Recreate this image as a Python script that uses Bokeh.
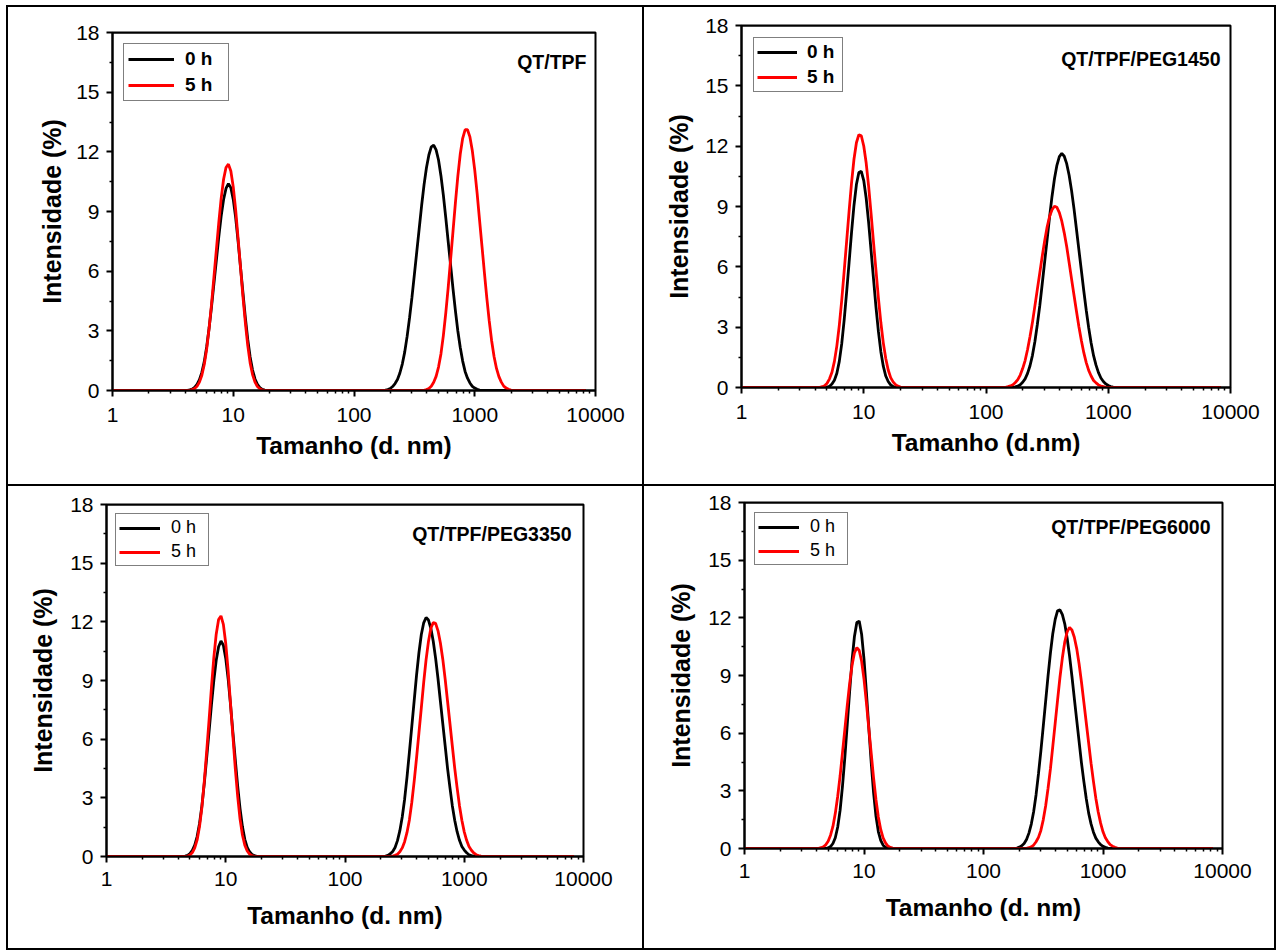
import sys
from bokeh.plotting import figure
from bokeh.models import (Range1d, LogAxis, FixedTicker, NumeralTickFormatter,
                          Label, Div, Spacer)
from bokeh.layouts import row, column
from bokeh.embed import file_html
from bokeh.resources import INLINE

# ---------------- data ----------------
# size bins (nm): first peak region, second peak region, plus the two ends of the scan
tamanho_inicio = [1.0]
tamanho_pico1 = [3.631, 3.802, 3.981, 4.169, 4.365, 4.571, 4.786, 5.012, 5.248, 5.495,
                 5.754, 6.026, 6.310, 6.607, 6.918, 7.244, 7.586, 7.943, 8.318, 8.710,
                 9.120, 9.550, 10.00, 10.47, 10.96, 11.48, 12.02, 12.59, 13.18, 13.80,
                 14.45, 15.14, 15.85, 16.60, 17.38, 18.20, 19.05, 19.95, 20.89]
tamanho_pico2 = [131.8, 138.0, 144.5, 151.4, 158.5, 166.0, 173.8, 182.0, 190.5, 199.5,
                 208.9, 218.8, 229.1, 239.9, 251.2, 263.0, 275.4, 288.4, 302.0, 316.2,
                 331.1, 346.7, 363.1, 380.2, 398.1, 416.9, 436.5, 457.1, 478.6, 501.2,
                 524.8, 549.5, 575.4, 602.6, 631.0, 660.7, 691.8, 724.4, 758.6, 794.3,
                 831.8, 871.0, 912.0, 955.0, 1000, 1047, 1096, 1148, 1202, 1259,
                 1318, 1380, 1445, 1514, 1585, 1660, 1738, 1820, 1905, 1995,
                 2089, 2188, 2291]
tamanho_fim = [8318.0]

# QT/TPF
tpf_0h_p1 = [0, 0, 0, 0.01, 0.03, 0.07, 0.16, 0.31, 0.54, 0.91,
             1.45, 2.20, 3.14, 4.21, 5.37, 6.54, 7.71, 8.77, 9.60, 10.16,
             10.40, 10.20, 9.61, 8.69, 7.52, 6.22, 4.94, 3.67, 2.58, 1.69,
             1.03, 0.58, 0.31, 0.15, 0.06, 0.02, 0, 0, 0]
tpf_0h_p2 = [0, 0, 0, 0, 0, 0, 0, 0.02, 0.05, 0.10,
             0.20, 0.35, 0.55, 0.88, 1.33, 1.93, 2.72, 3.65, 4.68, 5.83,
             6.98, 8.14, 9.30, 10.34, 11.20, 11.84, 12.25, 12.33, 12.10, 11.59,
             10.80, 9.82, 8.69, 7.48, 6.30, 5.11, 4.00, 2.99, 2.16, 1.48,
             0.96, 0.62, 0.38, 0.21, 0.12, 0.06, 0.02, 0, 0, 0,
             0, 0, 0, 0, 0, 0, 0, 0, 0, 0,
             0, 0, 0]
tpf_5h_p1 = [0, 0, 0, 0, 0.01, 0.04, 0.10, 0.21, 0.42, 0.77,
             1.31, 2.09, 3.13, 4.33, 5.70, 7.06, 8.43, 9.66, 10.62, 11.21,
             11.38, 11.04, 10.24, 9.08, 7.66, 6.21, 4.75, 3.42, 2.27, 1.39,
             0.80, 0.42, 0.20, 0.09, 0.03, 0.01, 0, 0, 0]
tpf_5h_p2 = [0, 0, 0, 0, 0, 0, 0, 0, 0, 0,
             0, 0, 0, 0, 0, 0, 0, 0, 0, 0,
             0, 0, 0, 0.01, 0.05, 0.10, 0.21, 0.41, 0.71, 1.18,
             1.84, 2.76, 3.89, 5.17, 6.59, 8.01, 9.45, 10.78, 11.89, 12.68,
             13.11, 13.11, 12.75, 12.05, 11.08, 9.90, 8.57, 7.25, 5.93, 4.64,
             3.50, 2.50, 1.71, 1.11, 0.70, 0.42, 0.22, 0.12, 0.06, 0.02,
             0, 0, 0]

# QT/TPF/PEG1450
peg1450_0h_p1 = [0, 0, 0, 0, 0, 0, 0, 0.02, 0.06, 0.17,
                 0.36, 0.71, 1.30, 2.18, 3.36, 4.74, 6.21, 7.70, 9.05, 10.09,
                 10.69, 10.75, 10.29, 9.41, 8.21, 6.80, 5.40, 4.00, 2.79, 1.78,
                 1.06, 0.57, 0.30, 0.13, 0.05, 0.01, 0, 0, 0]
peg1450_0h_p2 = [0, 0, 0, 0, 0, 0.01, 0.03, 0.07, 0.14, 0.26,
                 0.43, 0.70, 1.08, 1.60, 2.29, 3.13, 4.07, 5.16, 6.26, 7.36,
                 8.47, 9.50, 10.38, 11.05, 11.48, 11.64, 11.50, 11.13, 10.55, 9.79,
                 8.88, 7.87, 6.84, 5.82, 4.80, 3.84, 2.97, 2.21, 1.58, 1.11,
                 0.74, 0.47, 0.30, 0.18, 0.10, 0.05, 0.02, 0.01, 0, 0,
                 0, 0, 0, 0, 0, 0, 0, 0, 0, 0,
                 0, 0, 0]
peg1450_5h_p1 = [0, 0, 0, 0, 0.01, 0.04, 0.09, 0.21, 0.43, 0.76,
                 1.30, 2.07, 3.09, 4.35, 5.79, 7.27, 8.76, 10.16, 11.35, 12.17,
                 12.57, 12.52, 12.01, 11.16, 10.01, 8.64, 7.22, 5.82, 4.44, 3.23,
                 2.22, 1.44, 0.87, 0.49, 0.28, 0.14, 0.07, 0.02, 0]
peg1450_5h_p2 = [0, 0, 0.01, 0.04, 0.08, 0.14, 0.25, 0.39, 0.62, 0.94,
                 1.34, 1.89, 2.54, 3.24, 4.06, 4.88, 5.70, 6.53, 7.30, 7.98,
                 8.50, 8.84, 9.01, 8.96, 8.70, 8.27, 7.69, 7.01, 6.21, 5.39,
                 4.59, 3.79, 3.02, 2.34, 1.73, 1.24, 0.85, 0.57, 0.35, 0.23,
                 0.13, 0.07, 0.04, 0.01, 0, 0, 0, 0, 0, 0,
                 0, 0, 0, 0, 0, 0, 0, 0, 0, 0,
                 0, 0, 0]

# QT/TPF/PEG3350
peg3350_0h_p1 = [0, 0, 0, 0, 0, 0.02, 0.06, 0.15, 0.32, 0.58,
                 1.02, 1.69, 2.59, 3.74, 5.04, 6.38, 7.75, 9.00, 10.03, 10.73,
                 11.02, 10.80, 10.13, 9.09, 7.78, 6.35, 4.95, 3.60, 2.45, 1.53,
                 0.88, 0.47, 0.24, 0.11, 0.04, 0.01, 0, 0, 0]
peg3350_0h_p2 = [0, 0, 0, 0, 0, 0, 0, 0, 0, 0,
                 0, 0.02, 0.06, 0.14, 0.26, 0.46, 0.81, 1.32, 2.02, 2.93,
                 4.06, 5.33, 6.64, 7.96, 9.27, 10.42, 11.35, 11.95, 12.22, 12.09,
                 11.67, 11.01, 10.13, 9.09, 7.93, 6.79, 5.66, 4.51, 3.52, 2.60,
                 1.85, 1.27, 0.83, 0.51, 0.33, 0.19, 0.09, 0.05, 0.02, 0,
                 0, 0, 0, 0, 0, 0, 0, 0, 0, 0,
                 0, 0, 0]
peg3350_5h_p1 = [0, 0, 0, 0, 0, 0, 0.02, 0.08, 0.20, 0.44,
                 0.85, 1.53, 2.52, 3.83, 5.36, 6.98, 8.64, 10.17, 11.37, 12.12,
                 12.30, 11.87, 10.89, 9.50, 7.83, 6.17, 4.51, 3.07, 1.91, 1.10,
                 0.58, 0.28, 0.12, 0.04, 0.01, 0, 0, 0, 0]
peg3350_5h_p2 = [0, 0, 0, 0, 0, 0, 0, 0, 0, 0,
                 0, 0, 0, 0, 0.02, 0.06, 0.12, 0.24, 0.44, 0.76,
                 1.23, 1.87, 2.76, 3.84, 5.04, 6.32, 7.60, 8.90, 10.07, 11.00,
                 11.67, 11.96, 11.92, 11.54, 10.92, 10.09, 9.07, 7.94, 6.80, 5.65,
                 4.52, 3.52, 2.60, 1.85, 1.26, 0.83, 0.51, 0.32, 0.18, 0.09,
                 0.05, 0.02, 0, 0, 0, 0, 0, 0, 0, 0,
                 0, 0, 0]

# QT/TPF/PEG6000
peg6000_0h_p1 = [0, 0, 0, 0, 0, 0, 0, 0.03, 0.10, 0.26,
                 0.56, 1.12, 1.99, 3.24, 4.76, 6.46, 8.18, 9.78, 11.03, 11.76,
                 11.83, 11.15, 9.85, 8.14, 6.31, 4.50, 2.92, 1.69, 0.88, 0.42,
                 0.17, 0.06, 0.01, 0, 0, 0, 0, 0, 0]
peg6000_0h_p2 = [0, 0, 0, 0, 0, 0, 0, 0, 0.02, 0.07,
                 0.14, 0.26, 0.47, 0.80, 1.27, 1.93, 2.80, 3.88, 5.07, 6.35,
                 7.65, 8.97, 10.17, 11.19, 11.92, 12.37, 12.42, 12.17, 11.69, 10.94,
                 10.02, 8.96, 7.81, 6.68, 5.56, 4.44, 3.48, 2.59, 1.84, 1.28,
                 0.85, 0.54, 0.35, 0.20, 0.11, 0.06, 0.02, 0.01, 0, 0,
                 0, 0, 0, 0, 0, 0, 0, 0, 0, 0,
                 0, 0, 0]
peg6000_5h_p1 = [0, 0, 0, 0.01, 0.04, 0.09, 0.19, 0.38, 0.69, 1.15,
                 1.83, 2.72, 3.77, 4.99, 6.21, 7.45, 8.59, 9.53, 10.18, 10.45,
                 10.30, 9.74, 8.81, 7.60, 6.28, 4.97, 3.69, 2.55, 1.64, 0.99,
                 0.55, 0.29, 0.13, 0.06, 0.02, 0, 0, 0, 0]
peg6000_5h_p2 = [0, 0, 0, 0, 0, 0, 0, 0, 0, 0,
                 0, 0, 0.01, 0.04, 0.09, 0.18, 0.35, 0.58, 0.94, 1.49,
                 2.21, 3.12, 4.14, 5.33, 6.52, 7.73, 8.91, 9.92, 10.74, 11.27,
                 11.50, 11.37, 10.99, 10.40, 9.60, 8.65, 7.60, 6.54, 5.49, 4.44,
                 3.49, 2.62, 1.90, 1.32, 0.87, 0.56, 0.36, 0.20, 0.12, 0.06,
                 0.02, 0.01, 0, 0, 0, 0, 0, 0, 0, 0,
                 0, 0, 0]

series_labels = ["0 h", "5 h"]
panel_titles = ["QT/TPF", "QT/TPF/PEG1450", "QT/TPF/PEG3350", "QT/TPF/PEG6000"]
x_labels = ["Tamanho (d. nm)", "Tamanho (d.nm)", "Tamanho (d. nm)", "Tamanho (d. nm)"]
y_label = "Intensidade (%)"
x_ticks = [1, 10, 100, 1000, 10000]
y_ticks = [0, 3, 6, 9, 12, 15, 18]

# full size axis shared by every measurement
tamanho_nm = tamanho_inicio + tamanho_pico1 + tamanho_pico2 + tamanho_fim


def serie(p1, p2):
    vals = [0] + p1 + p2 + [0]
    if len(vals) != len(tamanho_nm):
        print("length mismatch", len(vals), len(tamanho_nm), file=sys.stderr)
    return vals


# ---------------- styling ----------------
FONT = "Liberation Sans"
x_minor = [m * 10 ** e for e in range(4) for m in range(2, 10)]
y_minor = [t + 1.5 for t in y_ticks[:-1]]


def style_axis(ax):
    ax.axis_line_width = 2
    ax.axis_line_color = "black"
    ax.major_tick_in = 0
    ax.major_tick_out = 6
    ax.minor_tick_in = 0
    ax.minor_tick_out = 3
    ax.major_tick_line_width = 2
    ax.minor_tick_line_width = 1.5
    ax.major_label_text_font = FONT
    ax.major_label_text_font_size = "21px"
    ax.major_label_text_color = "black"
    ax.axis_label_text_font = FONT
    ax.axis_label_text_font_style = "bold"
    ax.axis_label_text_color = "black"


def painel(w, h, borders, y0, y5, titulo, titulo_y, titulo_dx, xlabel,
           leg_style, leg, std):
    bl, br, bt, bb = borders
    p = figure(width=w, height=h, x_axis_type="log",
               x_range=Range1d(1, 10000), y_range=Range1d(0, 18),
               output_backend="svg", toolbar_location=None,
               min_border_left=bl, min_border_right=br,
               min_border_top=bt, min_border_bottom=bb, margin=0)
    try:
        p.frame_align = False
    except Exception:
        pass
    p.xgrid.visible = False
    p.ygrid.visible = False
    p.background_fill_color = "white"
    p.border_fill_color = "white"
    p.outline_line_color = "black"
    p.outline_line_width = 2

    p.line(tamanho_nm, y0, line_color="black", line_width=2.8,
           legend_label=series_labels[0])
    p.line(tamanho_nm, y5, line_color="#ff0000", line_width=2.8,
           legend_label=series_labels[1])

    xa = p.xaxis[0]
    xa.ticker = FixedTicker(ticks=x_ticks, minor_ticks=x_minor)
    xa.formatter = NumeralTickFormatter(format="0")
    xa.axis_label = xlabel
    style_axis(xa)
    xa.axis_label_text_font_size = "24.5px"
    xa.major_label_standoff = std["xt"]
    xa.axis_label_standoff = std["xl"]

    ya = p.yaxis[0]
    ya.ticker = FixedTicker(ticks=y_ticks, minor_ticks=y_minor)
    ya.axis_label = y_label
    style_axis(ya)
    ya.axis_label_text_font_size = "25px"
    ya.major_label_standoff = 7
    ya.axis_label_standoff = std["yl"]

    # tick marks on the top edge of the frame (no labels, takes no space)
    top = LogAxis(ticker=FixedTicker(ticks=x_ticks, minor_ticks=x_minor),
                  formatter=NumeralTickFormatter(format="0"))
    style_axis(top)
    top.fixed_location = 18
    top.major_label_text_font_size = "1px"
    top.major_label_text_alpha = 0
    top.major_label_standoff = 0
    p.add_layout(top, "above")

    lg = p.legend[0]
    lg.location = "top_left"
    lg.margin = leg["margin"]
    lg.padding = leg["padding"]
    lg.spacing = leg["spacing"]
    lg.glyph_width = leg["gw"]
    lg.glyph_height = leg["gh"]
    lg.label_height = leg["gh"]
    lg.label_width = leg["lw"]
    lg.label_standoff = leg["std"]
    lg.label_text_font = FONT
    lg.label_text_font_size = leg["fs"]
    lg.label_text_font_style = leg_style
    lg.label_text_color = "black"
    lg.border_line_color = "black"
    lg.border_line_width = 1
    lg.background_fill_color = "white"
    lg.background_fill_alpha = 1

    p.add_layout(Label(x=10000, y=titulo_y, x_offset=titulo_dx, text=titulo,
                       text_align="right", text_baseline="middle",
                       text_font=FONT, text_font_size="19.5px",
                       text_font_style="bold", text_color="black"))
    return p


W1, W2, H1, H2 = 634, 630, 477, 462

p1 = painel(W1, H1, (104, 47, 25, 94), serie(tpf_0h_p1, tpf_0h_p2), serie(tpf_5h_p1, tpf_5h_p2),
            panel_titles[0], 16.5, -9, x_labels[0], "bold",
            dict(margin=11, padding=4, spacing=4, gw=46, gh=22, lw=39, std=11, fs="19px"),
            dict(xt=11, xl=7, yl=7))
p2 = painel(W2, H1, (97, 44, 18, 97), serie(peg1450_0h_p1, peg1450_0h_p2),
            serie(peg1450_5h_p1, peg1450_5h_p2),
            panel_titles[1], 16.34, -10, x_labels[1], "bold",
            dict(margin=12, padding=3, spacing=3, gw=40, gh=20, lw=32, std=10, fs="19px"),
            dict(xt=11, xl=7, yl=9))
p3 = painel(W1, H2, (98, 59, 18, 92), serie(peg3350_0h_p1, peg3350_0h_p2),
            serie(peg3350_5h_p1, peg3350_5h_p2),
            panel_titles[2], 16.5, -12, x_labels[2], "normal",
            dict(margin=9, padding=3, spacing=3, gw=41, gh=20, lw=34, std=11, fs="18px"),
            dict(xt=9, xl=13, yl=10))
p4 = painel(W2, H2, (100, 52, 16, 100), serie(peg6000_0h_p1, peg6000_0h_p2),
            serie(peg6000_5h_p1, peg6000_5h_p2),
            panel_titles[3], 16.7, -12, x_labels[3], "normal",
            dict(margin=10, padding=3, spacing=3, gw=41, gh=20, lw=34, std=11, fs="18px"),
            dict(xt=9, xl=13, yl=10))


def linha(w, h):
    return Div(text="", width=w, height=h, margin=0,
               styles={"background-color": "black", "padding": "0px"})


TW = 2 + W1 + 2 + W2 + 2
tabela = column(
    linha(TW, 2),
    row(linha(2, H1), p1, linha(2, H1), p2, linha(2, H1), spacing=0, margin=0),
    linha(TW, 2),
    row(linha(2, H2), p3, linha(2, H2), p4, linha(2, H2), spacing=0, margin=0),
    linha(TW, 2),
    spacing=0, margin=0,
)
page = column(Spacer(width=10, height=5, margin=0),
              row(Spacer(width=6, height=10, margin=0), tabela, spacing=0, margin=0),
              spacing=0, margin=0)

open("out.html", "w").write(file_html(page, INLINE, title="DLS"))
